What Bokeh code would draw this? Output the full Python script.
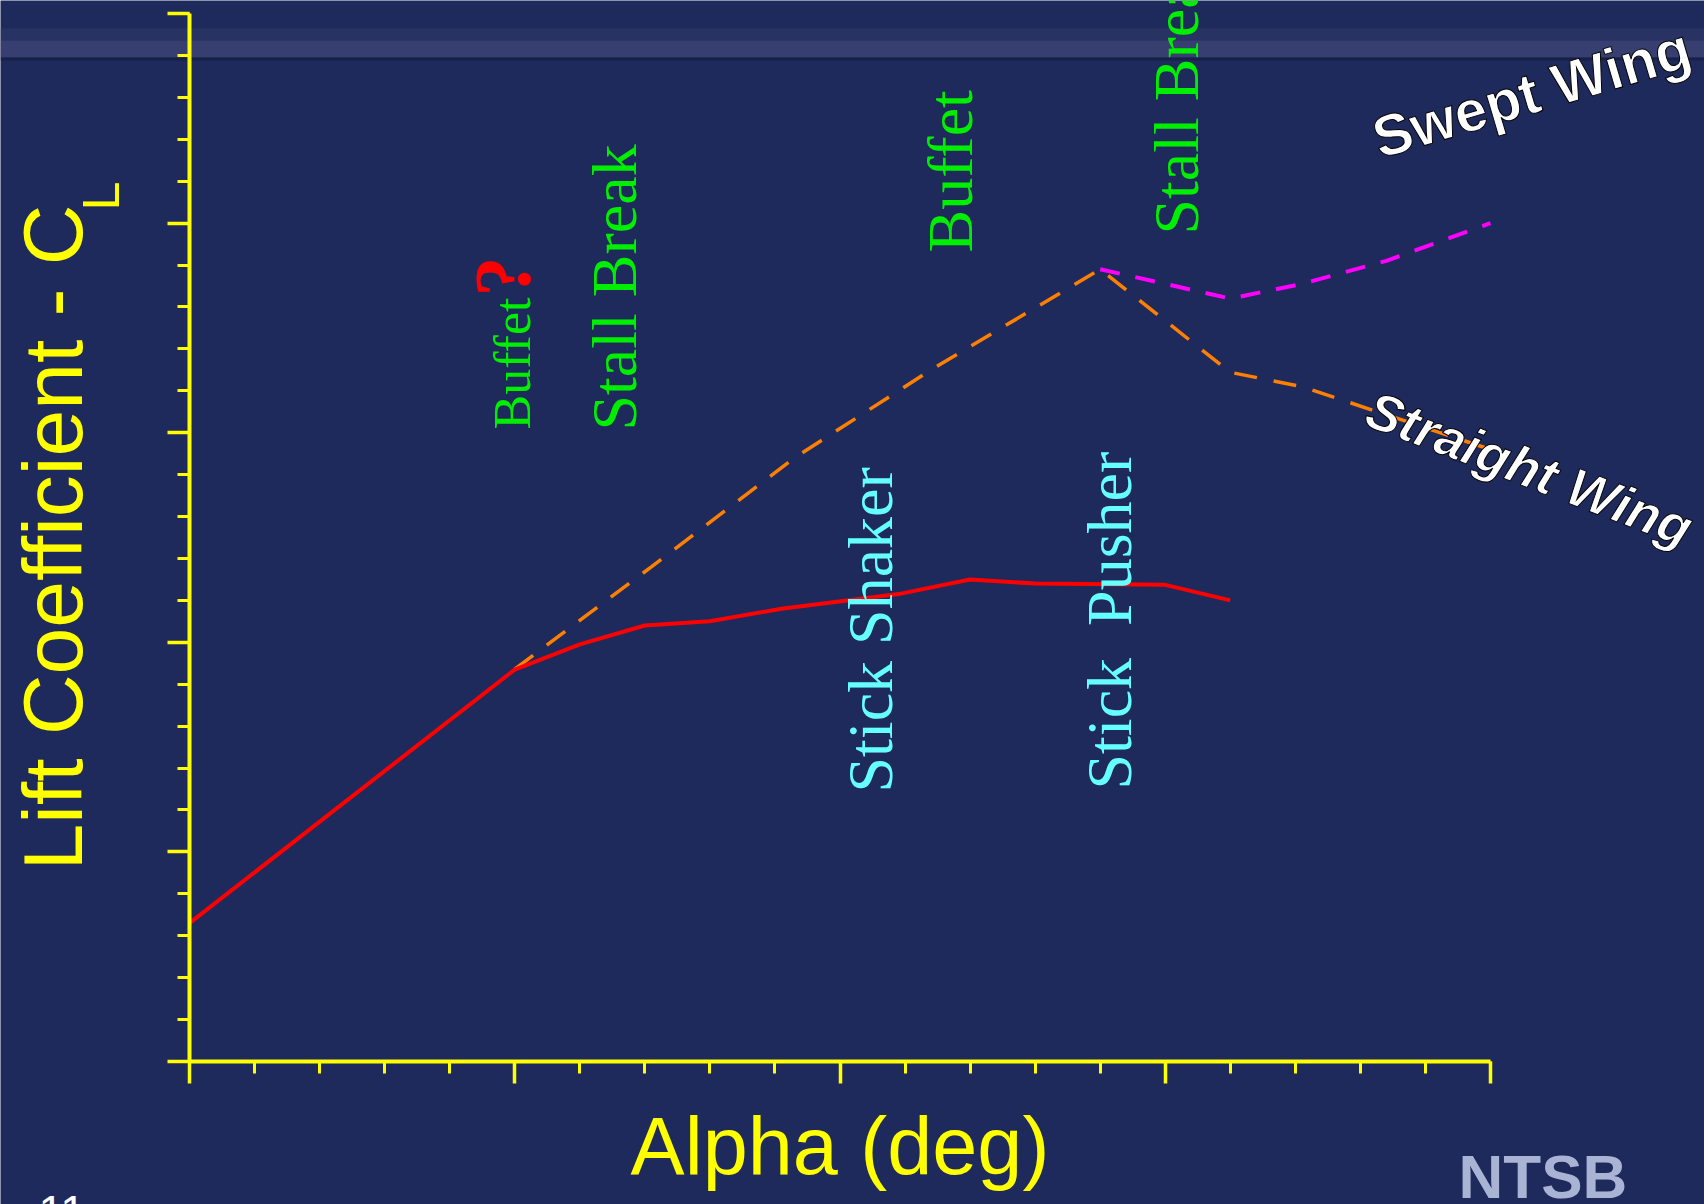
from bokeh.plotting import figure
from bokeh.models import Range1d, FixedTicker, Label, BoxAnnotation
from bokeh.embed import file_html
from bokeh.resources import INLINE

# ---- data (axis units = tick steps) ----
alpha_actual = [0.0, 5.0, 6.0, 7.0, 8.0, 9.1, 10.9, 12.0, 13.0, 15.0, 16.0]
cl_actual = [3.3, 9.35, 9.95, 10.4, 10.5, 10.8, 11.15, 11.5, 11.4, 11.37, 11.0]

alpha_straight = [5.0, 7.1, 9.3, 11.4, 14.0, 16.0, 17.1, 20.0]
cl_straight = [9.36, 11.8, 14.4, 16.5, 18.9, 16.44, 16.1, 14.6]

alpha_swept = [14.0, 16.0, 17.1, 18.4, 20.0]
cl_swept = [18.9, 18.2, 18.55, 19.1, 20.0]

x_major = [0, 5, 10, 15, 20]
x_minor = list(range(0, 21))
y_major = [0, 5, 10, 15, 20, 25]
y_minor = list(range(0, 26))

W, H = 1704, 1204
# pixel placement of the axis box
X0, X1, Y0, Y1 = 189, 1490, 1061, 13
SX = (X1 - X0) / 20.0
SY = (Y0 - Y1) / 25.0

def dx(px):
    return (px - X0) / SX

def dy(py):
    return (Y0 - py) / SY

BG = "#1f2a5c"
YELLOW = "#ffff00"
GREEN = "#00ee00"
CYAN = "#66ffff"
SANS = "Liberation Sans"
SERIF = "Liberation Serif"

p = figure(width=W, height=H, output_backend="svg", toolbar_location=None,
           x_range=Range1d(dx(0), dx(W)), y_range=Range1d(dy(H), dy(0)),
           min_border=0, background_fill_color=BG,
           border_fill_color=BG, outline_line_color=None)
p.grid.visible = False

# lighter band at top of slide
p.add_layout(BoxAnnotation(bottom=dy(40), top=dy(28), fill_color="#363f6c",
                           fill_alpha=0.45, line_color=None, level="underlay"))
p.add_layout(BoxAnnotation(bottom=dy(57), top=dy(40), fill_color="#3c4574",
                           fill_alpha=0.8, line_color=None, level="underlay"))
p.add_layout(BoxAnnotation(bottom=dy(60), top=dy(57), fill_color="#161d42",
                           fill_alpha=0.7, line_color=None, level="underlay"))

for ax, maj, mnr, bnds in ((p.xaxis[0], x_major, x_minor, (0, 20)),
                           (p.yaxis[0], y_major, y_minor, (0, 25))):
    ax.fixed_location = 0
    ax.bounds = bnds
    ax.ticker = FixedTicker(ticks=maj, minor_ticks=mnr)
    ax.axis_line_color = YELLOW
    ax.axis_line_width = 4
    ax.major_tick_line_color = YELLOW
    ax.minor_tick_line_color = YELLOW
    ax.major_tick_line_width = 3.5
    ax.minor_tick_line_width = 3
    ax.major_tick_in = 0
    ax.minor_tick_in = 0
    ax.major_tick_out = 22
    ax.minor_tick_out = 12
    ax.major_label_overrides = {t: "" for t in maj}
    ax.major_label_standoff = 0
    ax.axis_label_text_color = YELLOW
    ax.axis_label_text_font = SANS
    ax.axis_label_text_font_style = "normal"

p.xaxis.axis_label = "Alpha (deg)"
p.xaxis.axis_label_text_font_size = "81px"
p.xaxis.axis_label_standoff = 17
p.yaxis.axis_label = "Lift Coefficient - C"
p.yaxis.axis_label_text_font_size = "84px"
p.yaxis.axis_label_standoff = 68

# ---- curves ----
p.line(alpha_straight, cl_straight, line_color="#ff8000", line_width=3.5, line_dash="23 17")
p.line(alpha_swept, cl_swept, line_color="#ff00ff", line_width=4, line_dash="20 16")
p.line(alpha_actual, cl_actual, line_color="#ff0000", line_width=4)

# ---- annotations ----
def lab(xp, yp, text, color, size, font=SERIF, style="normal", angle=90,
        align="left", baseline="alphabetic", outline=None):
    kw = dict(x=dx(xp), y=dy(yp), text=text, text_color=color, text_font=font,
              text_font_size="%dpx" % size, text_font_style=style,
              angle=angle, angle_units="deg", text_align=align,
              text_baseline=baseline)
    if outline:
        kw["text_outline_color"] = outline
    p.add_layout(Label(**kw))

# vertical labels: (baseline x px, start y px); rotated anchor sits ~0.4em right
def vlab(bx, sy_, text, color, size, style="normal", font=SERIF):
    lab(bx - 0.4 * size, sy_, text, color, size, style=style, font=font)

vlab(533, 429, "Buffet", GREEN, 52)
vlab(534, 296, "?", "#ff0000", 80, style="bold")
vlab(640, 430, "Stall Break", GREEN, 64)
vlab(976, 252, "Buffet", GREEN, 64)
vlab(1202, 234, "Stall Break", GREEN, 64)
vlab(896, 792, "Stick Shaker", CYAN, 64)
vlab(1135, 789, "Stick\u00a0 Pusher", CYAN, 64)

lab(1531, 92, "Swept Wing", "#ffffff", 58, font=SANS, style="bold",
    angle=16.5, align="center", baseline="middle", outline="#000000")
lab(1529, 468, "Straight Wing", "#ffffff", 53, font=SANS, style="bold italic",
    angle=-21, align="center", baseline="middle", outline="#000000")

# subscript L of the y-axis title
vlab(121, 210, "L", YELLOW, 52, font=SANS)

# slide furniture
lab(38, 1211, "11", "#ffffff", 45, font=SANS, angle=0)
lab(1458, 1176, "NTSB", "#a9b3d3", 62, font=SANS, style="bold", angle=0)

open("out.html", "w").write(file_html(p, INLINE))
